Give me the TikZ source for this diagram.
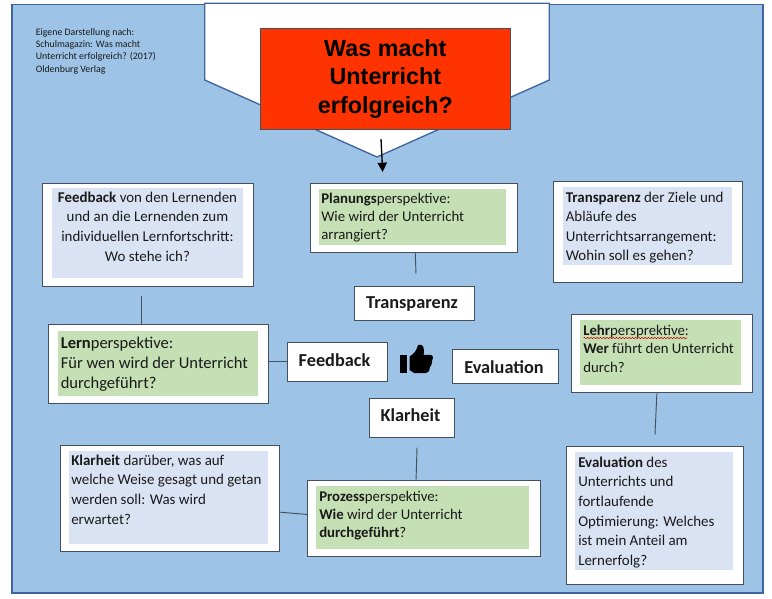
\documentclass[tikz,border=0pt]{standalone}
\usepackage{fontspec}
\setmainfont{Carlito}
\newfontfamily\titlefont{Liberation Sans}
\usetikzlibrary{arrows.meta,decorations.pathmorphing}
\definecolor{framefill}{HTML}{9DC3E6}
\definecolor{frameline}{HTML}{3F64A0}
\definecolor{panelline}{HTML}{45505C}
\definecolor{greenfill}{HTML}{C5E0B4}
\definecolor{bluefill}{HTML}{DAE3F3}
\definecolor{redfill}{HTML}{FF3300}
\definecolor{inktext}{HTML}{1A1A1A}
\tikzset{
	panel/.style n args = {2}{draw = panelline, fill = white, line width = 0.8pt, anchor = north west, inner sep = 0, minimum width = #1 * 0.75pt, minimum height = #2 * 0.75pt},
	shade green/.style = {fill = greenfill},
	shade blue/.style = {fill = bluefill},
	desc/.style = {anchor = north west, inner sep = 0, align = left, text = inktext, font = \fontsize{11.2}{14.7}\selectfont},
	persp/.style = {desc, font = \fontsize{11.1}{13.7}\selectfont},
	word/.style = {text = inktext, inner sep = 0, font = \fontsize{13.7}{15}\selectfont\bfseries},
	link/.style = {draw = panelline, line width = 0.7pt}
}
\begin{document}
\begin{tikzpicture}[x = 0.75pt, y = -0.75pt]
	\useasboundingbox (0, 0) rectangle (772, 599);
	\draw[fill = framefill, draw = frameline, line width = 1.2pt] (12, 4.7) rectangle (762.7, 593);
	\draw[fill = white, draw = frameline, line width = 1pt] (204.7, 3.3) -- (549.3, 3.3) -- (549.3, 80) -- (377, 157) -- (204.7, 80) -- cycle;

	% title
	\node[draw = panelline, fill = redfill, line width = 0.8pt, anchor = north west, inner sep = 0, minimum width = 249.7 * 0.75pt, minimum height = 101.3 * 0.75pt, align = center, font = \titlefont\fontsize{17.5}{21.3}\selectfont\bfseries] (titel) at (260, 27.7) {Was macht\\Unterricht\\erfolgreich?};
	\coordinate (pfeilstart) at (381, 139);
	\coordinate (pfeilende) at (382.7, 172);
	\draw[line width = 1pt, -{Triangle[width = 7pt, length = 7pt]}] (pfeilstart) -- (pfeilende);

	\node[desc, font = \fontsize{7.4}{9.1}\selectfont] (quelle) at (35.5, 28.5) {Eigene Darstellung nach:\\Schulmagazin: Was macht\\Unterricht erfolgreich? (2017)\\Oldenburg Verlag};

	% outer panels
	\node[panel = {211}{103}] (feedbacktext) at (42.3, 182.7) {};
	\node[panel = {207.6}{69.3}] (planung) at (309.7, 182.7) {};
	\node[panel = {188.7}{100.7}] (transparenztext) at (553.3, 181) {};
	\node[panel = {219.7}{78.7}] (lern) at (48.3, 324.3) {};
	\node[panel = {181}{78.6}] (lehr) at (570.7, 313.7) {};
	\node[panel = {219.6}{106.3}] (klarheittext) at (59.7, 445) {};
	\node[panel = {233}{76.6}] (prozess) at (307.3, 479.7) {};
	\node[panel = {177.6}{138}] (evaluationtext) at (565.7, 445.7) {};

	% inner shading
	\fill[shade blue] (52, 188) rectangle (242.7, 277.7);
	\fill[shade green] (318.7, 189) rectangle (506, 244.7);
	\fill[shade blue] (563, 187.3) rectangle (731.7, 265.3);
	\fill[shade green] (58, 331) rectangle (257.7, 395.7);
	\fill[shade green] (580.3, 320) rectangle (741.3, 385);
	\fill[shade blue] (68.7, 450.7) rectangle (268, 544.3);
	\fill[shade green] (316, 486) rectangle (529.3, 549);
	\fill[shade blue] (575.3, 452.3) rectangle (733, 569.7);

	% texts
	\node[desc, align = center, anchor = north] (feedbacklabel) at (147.5, 191.5) {\textbf{Feedback} von den Lernenden\\und an die Lernenden zum\\individuellen Lernfortschritt:\\Wo stehe ich?};
	\node[persp] (planunglabel) at (321, 192.5) {\textbf{Planungs}perspektive:\\Wie wird der Unterricht\\arrangiert?};
	\node[desc] (transparenzlabel) at (565.5, 191.5) {\textbf{Transparenz} der Ziele und\\Abläufe des\\Unterrichtsarrangement:\\Wohin soll es gehen?};
	\node[desc, font = \fontsize{12.4}{15}\selectfont] (lernlabel) at (60.5, 336.5) {\textbf{Lern}perspektive:\\Für wen wird der Unterricht\\durchgeführt?};
	\node[persp] (lehrlabel) at (583, 325) {\textbf{Lehr}persprektive:\\\textbf{Wer} führt den Unterricht\\durch?};
	\node[desc] (klarheitlabel) at (71, 454.5) {\textbf{Klarheit} darüber, was auf\\welche Weise gesagt und getan\\werden soll: Was wird\\erwartet?};
	\node[persp] (prozesslabel) at (319, 490.5) {\textbf{Prozess}perspektive:\\\textbf{Wie} wird der Unterricht\\\textbf{durchgeführt}?};
	\node[desc] (evaluationlabel) at (578, 456.5) {\textbf{Evaluation} des\\Unterrichts und\\fortlaufende\\Optimierung: Welches\\ist mein Anteil am\\Lernerfolg?};

	\draw[red!80!black, line width = 0.4pt, decorate, decoration = {snake, amplitude = 0.5pt, segment length = 2.4pt}] (583.5, 338) -- (687, 338);

	% centre words
	\node[panel = {119.4}{34}] (transparenz) at (354.3, 286.3) {};
	\node[word] (transparenzwort) at (412, 304) {Transparenz};
	\node[panel = {99.7}{39}] (feedback) at (287.3, 341.7) {};
	\node[word] (feedbackwort) at (334.5, 360) {Feedback};
	\node[panel = {106}{34}] (evaluation) at (451.7, 349.3) {};
	\node[word] (evaluationwort) at (504, 367) {Evaluation};
	\node[panel = {84.4}{39.6}] (klarheit) at (369.3, 397.7) {};
	\node[word] (klarheitwort) at (410.5, 415) {Klarheit};

	% thumb
	\fill[black] (399.5, 355) rectangle (407, 373);
	\fill[black] (409.5, 356.5) .. controls (414, 354) and (417, 350) .. (418, 345) .. controls (423, 343) and (425, 348) .. (423.5, 355) -- (431, 355) .. controls (434, 356) and (433, 359) .. (432, 361) .. controls (432.5, 364) and (431, 366) .. (430, 367) .. controls (429.5, 371) and (428, 373) .. (426, 373) -- (414, 373) -- (409.5, 370) -- cycle;

	% connectors
	\coordinate (planungende) at (416, 273.7);
	\draw[link] (planung.-88) -- (planungende);
	\coordinate (feedbackstart) at (141.7, 296);
	\draw[link] (feedbackstart) -- (lern.north -| feedbackstart);
	\draw[link] (feedback.west) -- (lern.east |- feedback.west);
	\coordinate (klarheitstart) at (417, 447.7);
	\draw[link] (klarheitstart) -- (prozess.102);
	\draw[link] (klarheittext.-7) -- (prozess.178);
	\coordinate (lehrende) at (655, 434.7);
	\draw[link] (lehr.263) -- (lehrende);
\end{tikzpicture}
\end{document}
